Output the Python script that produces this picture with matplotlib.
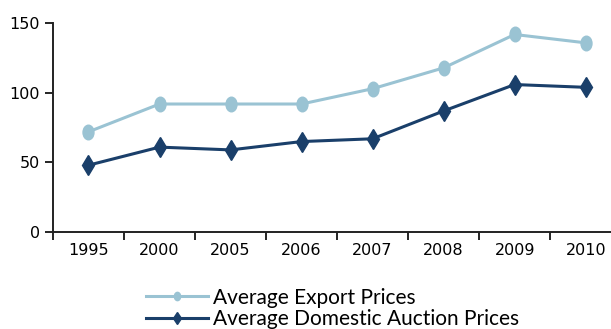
import matplotlib
matplotlib.use("Agg")
import matplotlib.pyplot as plt
from matplotlib.markers import MarkerStyle
from matplotlib.transforms import Affine2D

years = ["1995", "2000", "2005", "2006", "2007", "2008", "2009", "2010"]
export_prices = [72, 92, 92, 92, 103, 118, 142, 136]
domestic_prices = [48, 61, 59, 65, 67, 87, 106, 104]

light = "#9ac3d3"
dark = "#1a3f6a"

fig = plt.figure(figsize=(6.11, 3.29), dpi=100)
ax = fig.add_axes([0.0867, 0.295, 0.93, 0.634])

x = list(range(len(years)))
oval = MarkerStyle("o", transform=Affine2D().scale(0.75, 1.0))
ax.plot(x, export_prices, color=light, lw=2.2, marker=oval, ms=10.5,
        label="Average Export Prices", clip_on=False)
ax.plot(x, domestic_prices, color=dark, lw=2.2, marker="d", ms=10.5,
        label="Average Domestic Auction Prices", clip_on=False)

ax.set_xlim(-0.5, len(years) - 0.5)
ax.set_ylim(0, 150)
ax.set_yticks([0, 50, 100, 150])
ax.set_xticks([i - 0.5 for i in range(len(years) + 1)])
ax.set_xticklabels([])
ax.set_xticks(x, minor=True)
ax.set_xticklabels(years, minor=True)
ax.tick_params(axis="x", which="minor", length=0, pad=8, labelsize=11.5)
ax.tick_params(axis="x", which="major", length=6, width=1.2, direction="out")
ax.tick_params(axis="y", length=6, width=1.2, direction="out", labelsize=11.5)

for side in ("top", "right"):
    ax.spines[side].set_visible(False)
for side in ("left", "bottom"):
    ax.spines[side].set_linewidth(1.4)
    ax.spines[side].set_color("#222222")

h1, = ax.plot([], [], color=light, lw=2.2, marker=oval, ms=6)
h2, = ax.plot([], [], color=dark, lw=2.2, marker="d", ms=6)
fig.legend([h1, h2], ["Average Export Prices", "Average Domestic Auction Prices"],
           loc="center", bbox_to_anchor=(0.544, 0.062), frameon=False,
           prop={"family": "Lato", "size": 15}, handlelength=3.0,
           handletextpad=0.2, labelspacing=0.08, borderaxespad=0)

fig.savefig("out.png", dpi=100)
